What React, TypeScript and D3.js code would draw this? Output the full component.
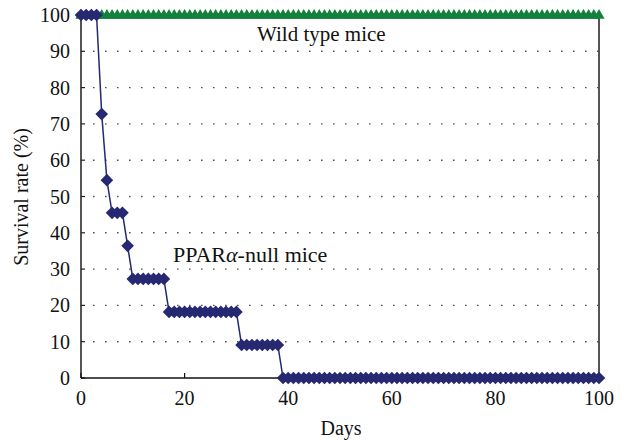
import React from "react";
import * as d3 from "d3";

const W = 624;
const H = 442;

const xTicks = [0, 20, 40, 60, 80, 100];
const yTicks = [0, 10, 20, 30, 40, 50, 60, 70, 80, 90, 100];
const gridLevels = [10, 20, 30, 40, 50, 60, 70, 80, 90];

// Survival (%) per day, day 0 .. 100
const nullSurvival = [
  100, 100, 100, 100, 72.7, 54.5, 45.5, 45.5, 45.5, 36.4,
  27.3, 27.3, 27.3, 27.3, 27.3, 27.3, 27.3,
  18.2, 18.2, 18.2, 18.2, 18.2, 18.2, 18.2, 18.2, 18.2, 18.2, 18.2, 18.2, 18.2, 18.2,
  9.1, 9.1, 9.1, 9.1, 9.1, 9.1, 9.1, 9.1,
  0, 0, 0, 0, 0, 0, 0, 0, 0, 0, 0, 0, 0, 0, 0, 0, 0, 0, 0, 0, 0,
  0, 0, 0, 0, 0, 0, 0, 0, 0, 0, 0, 0, 0, 0, 0, 0, 0, 0, 0, 0, 0,
  0, 0, 0, 0, 0, 0, 0, 0, 0, 0, 0, 0, 0, 0, 0, 0, 0, 0, 0, 0,
];
const wildSurvival = [
  100, 100, 100, 100, 100, 100, 100, 100, 100, 100,
  100, 100, 100, 100, 100, 100, 100, 100, 100, 100,
  100, 100, 100, 100, 100, 100, 100, 100, 100, 100,
  100, 100, 100, 100, 100, 100, 100, 100, 100, 100,
  100, 100, 100, 100, 100, 100, 100, 100, 100, 100,
  100, 100, 100, 100, 100, 100, 100, 100, 100, 100,
  100, 100, 100, 100, 100, 100, 100, 100, 100, 100,
  100, 100, 100, 100, 100, 100, 100, 100, 100, 100,
  100, 100, 100, 100, 100, 100, 100, 100, 100, 100,
  100, 100, 100, 100, 100, 100, 100, 100, 100, 100,
  100,
];

const NAVY = "#262872";
const GREEN = "#13803c";
const FONT = "'Liberation Serif', 'Times New Roman', serif";

export default function App() {
  const x = d3.scaleLinear().domain([0, 100]).range([81, 599]);
  const y = d3.scaleLinear().domain([0, 100]).range([378, 15]);

  const nullPts = nullSurvival.map((v, i) => [i, v] as [number, number]);
  const wildPts = wildSurvival.map((v, i) => [i, v] as [number, number]);

  const line = d3
    .line<[number, number]>()
    .x((d) => x(d[0]))
    .y((d) => y(d[1]));

  const tri = d3.symbol().type(d3.symbolTriangle).size(55)() as string;
  const dia = d3.symbol().type(d3.symbolSquare).size(80)() as string;

  return (
    <svg
      width={W}
      height={H}
      viewBox={`0 0 ${W} ${H}`}
      style={{ position: "absolute", left: 0, top: 0, background: "#fff" }}
      fontFamily={FONT}
    >
      <rect x={0} y={0} width={W} height={H} fill="#fff" />
      {gridLevels.map((g) => (
        <line
          key={g}
          x1={x(0) + 12}
          x2={x(100)}
          y1={y(g)}
          y2={y(g)}
          stroke="#555"
          strokeWidth={1.4}
          strokeDasharray="1.6,10.4"
        />
      ))}
      <line x1={x(100)} x2={x(100)} y1={y(100)} y2={y(0)} stroke="#555" strokeWidth={2} />
      <line x1={x(0)} x2={x(0)} y1={y(100)} y2={y(0)} stroke="#555" strokeWidth={2} />
      {yTicks.map((t) => (
        <g key={t}>
          <line x1={x(0)} x2={x(0) + 4} y1={y(t)} y2={y(t)} stroke="#222" strokeWidth={1.2} />
          <text x={70} y={y(t)} dy="0.35em" textAnchor="end" fontSize={20} fill="#111">
            {t}
          </text>
        </g>
      ))}
      <line x1={x(0)} x2={x(100)} y1={y(0)} y2={y(0)} stroke="#111" strokeWidth={1.5} />
      {xTicks.map((t) => (
        <g key={t}>
          <line x1={x(t)} x2={x(t)} y1={y(0)} y2={y(0) - 5} stroke="#111" strokeWidth={1.2} />
          <text x={x(t)} y={405} textAnchor="middle" fontSize={20} fill="#111">
            {t}
          </text>
        </g>
      ))}
      <path d={line(wildPts) || ""} fill="none" stroke={GREEN} strokeWidth={3} />
      {wildPts.map((d, i) => (
        <path key={i} d={tri} transform={`translate(${x(d[0])},${y(d[1]) + 0.5})`} fill={GREEN} />
      ))}
      <path d={line(nullPts) || ""} fill="none" stroke={NAVY} strokeWidth={1.5} />
      {nullPts.map((d, i) => (
        <path
          key={i}
          d={dia}
          transform={`translate(${x(d[0])},${y(d[1])}) rotate(45)`}
          fill={NAVY}
        />
      ))}
      <text x={257} y={41} fontSize={21} fill="#111">
        Wild type mice
      </text>
      <text x={173} y={262} fontSize={22} fill="#111">
        PPAR<tspan fontStyle="italic">α</tspan>-null mice
      </text>
      <text x={341} y={435} textAnchor="middle" fontSize={20} fill="#111">
        Days
      </text>
      <text transform={`translate(28,197) rotate(-90)`} textAnchor="middle" fontSize={20} fill="#111">
        Survival rate (%)
      </text>
    </svg>
  );
}
